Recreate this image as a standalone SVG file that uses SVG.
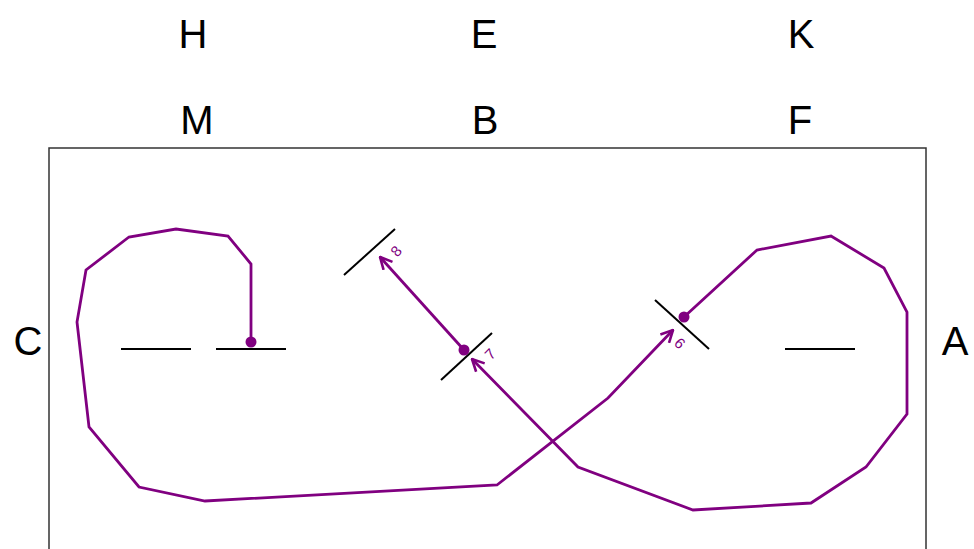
<svg xmlns="http://www.w3.org/2000/svg" width="974" height="549" viewBox="0 0 974 549">
<style>
.lbl{font-family:"Liberation Sans",Arial,sans-serif;font-size:40px;fill:#000;text-anchor:middle}
.num{font-family:"Liberation Sans",Arial,sans-serif;font-size:15px;fill:#800080;text-anchor:middle;dominant-baseline:central}
.tick{stroke:#000;stroke-width:2;fill:none}
.wire{stroke:#800080;stroke-width:2.8;fill:none;stroke-linejoin:miter}
.dot{fill:#800080}
</style>
<defs>
<marker id="arr" viewBox="0 0 14 14" refX="13" refY="7" markerWidth="14" markerHeight="14" markerUnits="userSpaceOnUse" orient="auto">
<path d="M1,1 L13,7 L1,13" fill="none" stroke="#800080" stroke-width="2.6"/>
</marker>
</defs>
<rect x="0" y="0" width="974" height="549" fill="#fff"/>
<g id="labels">
<text class="lbl" x="193" y="48">H</text>
<text class="lbl" x="484" y="48">E</text>
<text class="lbl" x="801" y="48">K</text>
<text class="lbl" x="197" y="134">M</text>
<text class="lbl" x="485" y="134">B</text>
<text class="lbl" x="800" y="134">F</text>
<text class="lbl" x="28" y="355">C</text>
<text class="lbl" x="955" y="355">A</text>
</g>
<rect id="frame" x="49" y="148" width="877" height="430" fill="none" stroke="#333" stroke-width="1.5"/>
<g id="ticks">
<line class="tick" x1="121" y1="349" x2="191" y2="349"/>
<line class="tick" x1="216" y1="349" x2="286" y2="349"/>
<line class="tick" x1="785" y1="349" x2="855" y2="349"/>
<line class="tick" x1="655" y1="300" x2="709" y2="349"/>
<line class="tick" x1="441" y1="380" x2="492" y2="333"/>
<line class="tick" x1="344" y1="275" x2="395" y2="229"/>
</g>
<g id="connectors">
<path class="wire" marker-end="url(#arr)" d="M251,342 L251,264 L228,236 L176,229 L129,237 L86,270 L77,322 L89,427 L139,487 L205,501 L497,485 L608,398 L673,330"/>
<path class="wire" marker-end="url(#arr)" d="M684,317 L757,250 L831,236 L884,268 L907,312 L907,414 L866,467 L811,503 L693,510 L578,467 L472,359"/>
<path class="wire" marker-end="url(#arr)" d="M464,350 L380,257"/>
<circle class="dot" cx="251" cy="342" r="5.5"/>
<circle class="dot" cx="684" cy="317" r="5.5"/>
<circle class="dot" cx="464" cy="350" r="5.5"/>
</g>
<g id="numbers">
<text class="num" x="396" y="251" transform="rotate(-48 396 251)">8</text>
<text class="num" x="490" y="354" transform="rotate(-45 490 354)">7</text>
<text class="num" x="680" y="343" transform="rotate(45 680 343)">6</text>
</g>
</svg>
